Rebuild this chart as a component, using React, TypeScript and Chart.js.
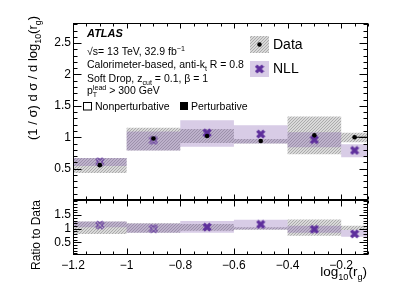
import React, { useEffect, useRef } from "react";
import { Chart, registerables } from "chart.js";
Chart.register(...registerables);

const FONT = "'Liberation Sans', Arial, Helvetica, sans-serif";
const PURPLE = "#5e2f9c";
const PURPLE_BAND = "rgba(125, 85, 172, 0.30)";

// ---- data ----
const binEdges = [-1.2, -1.0, -0.8, -0.6, -0.4, -0.2, -0.1];
const binCenters = [-1.1, -0.9, -0.7, -0.5, -0.3, -0.15];

const dataValues = [0.555, 0.98, 1.02, 0.94, 1.03, 1.0];
const dataLow = [0.43, 0.79, 0.91, 0.9, 0.73, 0.92];
const dataHigh = [0.67, 1.15, 1.13, 0.97, 1.33, 1.07];

const nllValues = [0.61, 0.95, 1.07, 1.05, 0.96, 0.79];
const nllLow = [0.54, 0.79, 0.85, 0.9, 0.84, 0.68];
const nllHigh = [0.67, 1.09, 1.27, 1.19, 1.08, 0.89];
const nllHollow = [true, true, false, false, false, false];

const ratioDataLow = [0.81, 0.85, 0.93, 0.96, 0.74, 0.95];
const ratioDataHigh = [1.26, 1.2, 1.17, 1.05, 1.34, 1.11];
const ratioNll = [1.13, 1.0, 1.06, 1.16, 0.98, 0.81];
const ratioNllLow = [1.05, 0.85, 0.85, 0.97, 0.85, 0.71];
const ratioNllHigh = [1.26, 1.19, 1.28, 1.33, 1.11, 0.95];

const xTickValues = [-1.2, -1.0, -0.8, -0.6, -0.4, -0.2];
const yTickValuesMain = [0.5, 1, 1.5, 2, 2.5];
const yTickValuesRatio = [0.5, 1, 1.5];

// ---- helpers ----
function steps(vals: number[]) {
  const pts: { x: number; y: number }[] = [];
  vals.forEach((v, i) => {
    pts.push({ x: binEdges[i], y: v });
    pts.push({ x: binEdges[i + 1], y: v });
  });
  return pts;
}
function points(vals: number[]) {
  return vals.map((v, i) => ({ x: binCenters[i], y: v }));
}
function fmtX(v: number) {
  const a = Math.abs(v);
  return (v < 0 ? "\u2212" : "") + String(Math.round(a * 10) / 10);
}

function makeTile(): HTMLCanvasElement {
  const n = 3;
  const c = document.createElement("canvas");
  c.width = n;
  c.height = n;
  const g = c.getContext("2d")!;
  g.fillStyle = "#d9d9d9";
  g.fillRect(0, 0, n, n);
  g.fillStyle = "#ababab";
  for (let i = 0; i < n; i++) g.fillRect(n - 1 - i, i, 1, 1);
  return c;
}

function makeCross(hollow: boolean): HTMLCanvasElement {
  const s = 10;
  const c = document.createElement("canvas");
  c.width = s;
  c.height = s;
  const g = c.getContext("2d")!;
  g.strokeStyle = PURPLE;
  g.lineWidth = 3.4;
  g.lineCap = "butt";
  const m = 1.6;
  g.beginPath();
  g.moveTo(m, m);
  g.lineTo(s - m, s - m);
  g.moveTo(s - m, m);
  g.lineTo(m, s - m);
  g.stroke();
  if (hollow) {
    g.globalCompositeOperation = "destination-out";
    g.lineWidth = 1.3;
    g.stroke();
  }
  return c;
}

type Seg = { t: string; s?: "sub" | "sup"; keep?: boolean };

function segFont(size: number, s: Seg, style: string) {
  const fs = s.s ? size * 0.68 : size;
  return `${style} ${fs}px ${FONT}`;
}
function richWidth(ctx: CanvasRenderingContext2D, segs: Seg[], size: number, style: string) {
  let w = 0;
  for (const s of segs) {
    ctx.font = segFont(size, s, style);
    if (!s.keep) w += ctx.measureText(s.t).width;
  }
  return w;
}
function drawRich(
  ctx: CanvasRenderingContext2D,
  x: number,
  y: number,
  segs: Seg[],
  size: number,
  align: "left" | "right" = "left",
  style = ""
) {
  const w = richWidth(ctx, segs, size, style);
  let cx = align === "left" ? x : x - w;
  ctx.textAlign = "left";
  ctx.textBaseline = "alphabetic";
  for (const s of segs) {
    ctx.font = segFont(size, s, style);
    const dy = s.s === "sub" ? size * 0.32 : s.s === "sup" ? -size * 0.42 : 0;
    ctx.fillText(s.t, cx, y + dy);
    if (!s.keep) cx += ctx.measureText(s.t).width;
  }
}

function axesPlugin(cfg: {
  yMinorStep: number;
  xMajLen: number;
  xMinLen: number;
  yMajLen: number;
  yMinLen: number;
  yMajor: number[];
}) {
  return {
    id: "rootAxes",
    afterDatasetsDraw(chart: any) {
      const { ctx, chartArea: a, scales } = chart;
      const xs = scales.x;
      const ys = scales.y;
      ctx.save();
      ctx.strokeStyle = "#000";
      ctx.lineWidth = 1;
      const L = Math.round(a.left) + 0.5;
      const R = Math.round(a.right) - 0.5;
      const T = Math.round(a.top) + 0.5;
      const B = Math.round(a.bottom) - 0.5;
      ctx.strokeRect(L, T, R - L, B - T);
      ctx.beginPath();
      for (let v = xs.min; v <= xs.max + 1e-9; v += 0.05) {
        const isMaj = xTickValues.some((t) => Math.abs(t - v) < 1e-6);
        const len = isMaj ? cfg.xMajLen : cfg.xMinLen;
        const px = Math.round(xs.getPixelForValue(v)) + 0.5;
        ctx.moveTo(px, B);
        ctx.lineTo(px, B - len);
        ctx.moveTo(px, T);
        ctx.lineTo(px, T + len);
      }
      const start = Math.ceil(ys.min / cfg.yMinorStep - 1e-6) * cfg.yMinorStep;
      for (let v = start; v <= ys.max + 1e-9; v += cfg.yMinorStep) {
        const isMaj = cfg.yMajor.some((t) => Math.abs(t - v) < 1e-6) || Math.abs(v) < 1e-6;
        const len = isMaj ? cfg.yMajLen : cfg.yMinLen;
        const py = Math.round(ys.getPixelForValue(v)) + 0.5;
        ctx.moveTo(L, py);
        ctx.lineTo(L + len, py);
        ctx.moveTo(R, py);
        ctx.lineTo(R - len, py);
      }
      ctx.stroke();
      ctx.restore();
    },
  };
}

function mainTextPlugin(tile: HTMLCanvasElement, crossFilled: HTMLCanvasElement) {
  return {
    id: "mainText",
    afterDraw(chart: any) {
      const ctx: CanvasRenderingContext2D = chart.ctx;
      ctx.save();
      ctx.fillStyle = "#000";
      const fs = 10.5;
      drawRich(ctx, 87, 37, [{ t: "ATLAS" }], 11, "left", "italic bold");
      drawRich(ctx, 87, 55, [{ t: "\u221As= 13 TeV, 32.9 fb" }, { t: "\u22121", s: "sup" }], fs);
      drawRich(ctx, 87, 68, [{ t: "Calorimeter-based, anti-k" }, { t: "t", s: "sub" }, { t: " R = 0.8" }], fs);
      drawRich(ctx, 87, 81.5, [{ t: "Soft Drop, z" }, { t: "cut", s: "sub" }, { t: " = 0.1, \u03B2 = 1" }], fs);
      drawRich(
        ctx,
        87,
        94,
        [{ t: "p" }, { t: "T", s: "sub", keep: true }, { t: "lead", s: "sup" }, { t: " > 300 GeV" }],
        fs
      );
      ctx.strokeStyle = "#000";
      ctx.lineWidth = 1;
      ctx.strokeRect(83.5, 102.5, 8, 7.5);
      drawRich(ctx, 95, 110, [{ t: "Nonperturbative" }], fs);
      ctx.fillRect(180, 102, 8, 8);
      drawRich(ctx, 191, 110, [{ t: "Perturbative" }], fs);

      const pat = ctx.createPattern(tile, "repeat")!;
      ctx.fillStyle = pat;
      ctx.fillRect(250, 36, 19, 17);
      ctx.fillStyle = "#000";
      ctx.beginPath();
      ctx.arc(259.5, 44.5, 2.2, 0, Math.PI * 2);
      ctx.fill();
      ctx.fillStyle = PURPLE_BAND;
      ctx.fillRect(250, 61, 19, 16);
      ctx.drawImage(crossFilled, 259.5 - 5, 69 - 5);
      ctx.fillStyle = "#000";
      ctx.font = `14px ${FONT}`;
      ctx.textBaseline = "middle";
      ctx.fillText("Data", 273, 45);
      ctx.fillText("NLL", 273, 69.5);

      ctx.translate(37, 16);
      ctx.rotate(-Math.PI / 2);
      drawRich(
        ctx,
        0,
        0,
        [
          { t: "(1 / \u03C3) d \u03C3 / d log" },
          { t: "10", s: "sub" },
          { t: "(r" },
          { t: "g", s: "sub" },
          { t: ")" },
        ],
        13,
        "right"
      );
      ctx.restore();
    },
  };
}

const ratioTextPlugin = {
  id: "ratioText",
  afterDraw(chart: any) {
    const ctx: CanvasRenderingContext2D = chart.ctx;
    ctx.save();
    ctx.fillStyle = "#000";
    drawRich(
      ctx,
      367,
      80,
      [{ t: "log" }, { t: "10", s: "sub" }, { t: "(r" }, { t: "g", s: "sub" }, { t: ")" }],
      13.5,
      "right"
    );
    ctx.translate(40, 4);
    ctx.rotate(-Math.PI / 2);
    drawRich(ctx, 0, 0, [{ t: "Ratio to Data" }], 12, "right");
    ctx.restore();
  },
};

function bandSets(low: number[], high: number[], bg: any, order: number) {
  return [
    {
      data: steps(high),
      borderColor: "rgba(0,0,0,0)",
      borderWidth: 0,
      pointRadius: 0,
      backgroundColor: bg,
      fill: "+1",
      tension: 0,
      order,
    },
    {
      data: steps(low),
      borderColor: "rgba(0,0,0,0)",
      borderWidth: 0,
      pointRadius: 0,
      fill: false,
      tension: 0,
      order,
    },
  ];
}

const noPad = (s: any) => {
  s.paddingTop = 0;
  s.paddingBottom = 0;
  s.paddingLeft = 0;
  s.paddingRight = 0;
};

export default function App() {
  const mainRef = useRef<HTMLCanvasElement>(null);
  const ratioRef = useRef<HTMLCanvasElement>(null);

  useEffect(() => {
    const tile = makeTile();
    const pattern = document.createElement("canvas").getContext("2d")!.createPattern(tile, "repeat");
    const crossFilled = makeCross(false);
    const crossHollow = makeCross(true);
    const nllStyles = nllHollow.map((h) => (h ? crossHollow : crossFilled));

    const yTickFont = { family: FONT, size: 12 };

    const main = new Chart(mainRef.current!, {
      type: "line",
      data: {
        datasets: [
          ...bandSets(dataLow, dataHigh, pattern, 10),
          ...bandSets(nllLow, nllHigh, PURPLE_BAND, 9),
          {
            data: [
              { x: binCenters[5], y: dataValues[5] },
              { x: binEdges[6], y: dataValues[5] },
            ],
            borderColor: "#000",
            borderWidth: 1,
            pointRadius: 0,
            fill: false,
            order: 3,
          },
          {
            data: points(nllValues),
            showLine: false,
            pointStyle: nllStyles as any,
            pointRadius: 5,
            order: 2,
          },
          {
            data: points(dataValues),
            showLine: false,
            pointStyle: "circle",
            pointRadius: 2.3,
            pointBorderWidth: 0,
            pointBackgroundColor: "#000",
            pointBorderColor: "#000",
            order: 1,
          },
        ] as any,
      },
      options: {
        animation: false,
        responsive: false,
        devicePixelRatio: 1,
        layout: { autoPadding: false, padding: { left: 0, right: 31, top: 23, bottom: 2 } },
        plugins: { legend: { display: false }, tooltip: { enabled: false } },
        scales: {
          x: { type: "linear", min: -1.2, max: -0.1, display: false },
          y: {
            type: "linear",
            min: 0,
            max: 2.82,
            grid: { display: false, drawTicks: false },
            border: { display: false },
            afterBuildTicks: (s: any) => {
              s.ticks = yTickValuesMain.map((v) => ({ value: v }));
            },
            afterFit: (s: any) => {
              s.width = 73;
              noPad(s);
            },
            ticks: { font: yTickFont, color: "#000", padding: 2, callback: (v: any) => String(v) },
          },
        },
      } as any,
      plugins: [
        axesPlugin({ yMinorStep: 0.1, xMajLen: 5, xMinLen: 3, yMajLen: 8, yMinLen: 4, yMajor: yTickValuesMain }),
        mainTextPlugin(tile, crossFilled),
      ],
    });

    const ratio = new Chart(ratioRef.current!, {
      type: "line",
      data: {
        datasets: [
          ...bandSets(ratioDataLow, ratioDataHigh, pattern, 10),
          ...bandSets(ratioNllLow, ratioNllHigh, PURPLE_BAND, 9),
          {
            data: points(ratioNll),
            showLine: false,
            pointStyle: nllStyles as any,
            pointRadius: 5,
            order: 2,
          },
        ] as any,
      },
      options: {
        animation: false,
        responsive: false,
        devicePixelRatio: 1,
        layout: { autoPadding: false, padding: { left: 0, right: 31, top: 4, bottom: 0 } },
        plugins: { legend: { display: false }, tooltip: { enabled: false } },
        scales: {
          x: {
            type: "linear",
            min: -1.2,
            max: -0.1,
            grid: { display: false, drawTicks: false },
            border: { display: false },
            afterBuildTicks: (s: any) => {
              s.ticks = xTickValues.map((v) => ({ value: v }));
            },
            afterFit: (s: any) => {
              s.height = 31;
              noPad(s);
            },
            ticks: {
              font: { family: FONT, size: 12 },
              color: "#000",
              padding: 3,
              autoSkip: false,
              maxRotation: 0,
              callback: (v: any) => fmtX(Number(v)),
            },
          },
          y: {
            type: "linear",
            min: 0.04,
            max: 2.05,
            grid: { display: false, drawTicks: false },
            border: { display: false },
            afterBuildTicks: (s: any) => {
              s.ticks = yTickValuesRatio.map((v) => ({ value: v }));
            },
            afterFit: (s: any) => {
              s.width = 73;
              noPad(s);
            },
            ticks: { font: yTickFont, color: "#000", padding: 2, callback: (v: any) => String(v) },
          },
        },
      } as any,
      plugins: [
        axesPlugin({ yMinorStep: 0.1, xMajLen: 6, xMinLen: 3, yMajLen: 8, yMinLen: 4, yMajor: yTickValuesRatio }),
        ratioTextPlugin,
      ],
    });

    return () => {
      main.destroy();
      ratio.destroy();
    };
  }, []);

  return (
    <div style={{ position: "absolute", left: 0, top: 0, width: 399, height: 286, background: "#fff", overflow: "hidden" }}>
      <canvas ref={mainRef} width={399} height={202} style={{ position: "absolute", left: 0, top: 0, width: 399, height: 202 }} />
      <canvas ref={ratioRef} width={399} height={90} style={{ position: "absolute", left: 0, top: 196, width: 399, height: 90 }} />
    </div>
  );
}
